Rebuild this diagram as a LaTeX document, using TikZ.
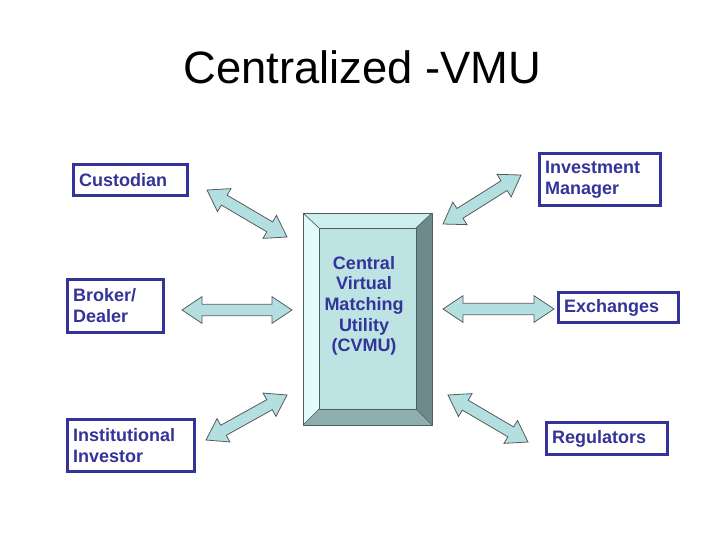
\documentclass[tikz,border=0pt]{standalone}
\usepackage{fontspec}
\setmainfont{Liberation Sans}
\definecolor{navy}{HTML}{333399}
\definecolor{flowfill}{HTML}{B4DFE1}
\definecolor{flowline}{HTML}{5A5A5A}
\definecolor{facetop}{HTML}{CDEFEF}
\definecolor{faceleft}{HTML}{E2FBFB}
\definecolor{faceright}{HTML}{6F8A8A}
\definecolor{facebottom}{HTML}{8FAEAE}
\definecolor{facecore}{HTML}{BDE3E3}
\definecolor{faceedge}{HTML}{4D6060}
\usetikzlibrary{calc}

% double-headed block arrow between two named coordinates
\newcommand{\blockarrow}[2]{%
  \coordinate (ha) at ($(#1)!15pt!(#2)$);
  \coordinate (hb) at ($(#2)!15pt!(#1)$);
  \draw[flow] (#1) -- ($(ha)!10pt!90:(#2)$) -- ($(ha)!4.3pt!90:(#2)$)
    -- ($(hb)!4.3pt!-90:(#1)$) -- ($(hb)!10pt!-90:(#1)$) -- (#2)
    -- ($(hb)!10pt!90:(#1)$) -- ($(hb)!4.3pt!90:(#1)$)
    -- ($(ha)!4.3pt!-90:(#2)$) -- ($(ha)!10pt!-90:(#2)$) -- cycle;}

\begin{document}
\begin{tikzpicture}[
    x=0.75pt, y=-0.75pt,
    title/.style={
        font=\fontsize{34}{40}\selectfont,
        text=black,
        inner sep=0pt,
    },
    entity/.style={
        rectangle,
        draw=navy,
        line width=2.2pt,
        text=navy,
        font=\bfseries\fontsize{13.5}{15.75}\selectfont,
        align=left,
        inner xsep=4.25pt,
        inner ysep=0pt,
    },
    hub/.style={
        rectangle,
        inner sep=0pt,
        outer sep=0pt,
        minimum width=96.75pt,
        minimum height=159pt,
    },
    core/.style={
        rectangle,
        inner sep=0pt,
        outer sep=0pt,
        minimum width=72.75pt,
        minimum height=135.75pt,
    },
    hublabel/.style={
        text=navy,
        font=\bfseries\fontsize{13.5}{15.5}\selectfont,
        align=center,
    },
    face/.style={draw=faceedge, line width=0.5pt, line join=round},
    flow/.style={fill=flowfill, draw=flowline, line width=0.6pt, line join=miter},
]
\useasboundingbox (0,0) rectangle (728,546);

\node[title, anchor=base] (heading) at (362.5,83) {Centralized -VMU};

% the central matching utility
\node[hub] (cvmu) at (367.5,319) {};
\node[core] (cvmucore) at (367.5,318.5) {};
\fill[facetop] (cvmu.north west) -- (cvmu.north east) -- (cvmucore.north east) -- (cvmucore.north west) -- cycle;
\fill[faceleft] (cvmu.north west) -- (cvmucore.north west) -- (cvmucore.south west) -- (cvmu.south west) -- cycle;
\fill[faceright] (cvmu.north east) -- (cvmu.south east) -- (cvmucore.south east) -- (cvmucore.north east) -- cycle;
\fill[facebottom] (cvmu.south west) -- (cvmucore.south west) -- (cvmucore.south east) -- (cvmu.south east) -- cycle;
\fill[facecore] (cvmucore.north west) rectangle (cvmucore.south east);
\draw[face] (cvmu.north west) rectangle (cvmu.south east);
\draw[face] (cvmucore.north west) rectangle (cvmucore.south east);
\draw[face] (cvmu.north west) -- (cvmucore.north west);
\draw[face] (cvmu.north east) -- (cvmucore.north east);
\draw[face] (cvmu.south east) -- (cvmucore.south east);
\draw[face] (cvmu.south west) -- (cvmucore.south west);
\node[hublabel] (cvmulabel) at (364,306) {Central\\Virtual\\Matching\\Utility\\(CVMU)};

% participants
\node[entity, text width=77pt, minimum height=23.25pt] (custodian) at (130.5,180) {Custodian};
\node[entity, text width=82.25pt, minimum height=39pt] (investment) at (600,179.5) {Investment\\Manager};
\node[entity, text width=63.5pt, minimum height=39.75pt] (broker) at (115.5,306) {Broker/\\Dealer};
\node[entity, text width=81.5pt, minimum height=22.5pt] (exchanges) at (618.5,307.5) {Exchanges};
\node[entity, text width=86.75pt, minimum height=39pt] (institutional) at (131,445.5) {Institutional\\Investor};
\node[entity, text width=82.25pt, minimum height=24pt] (regulators) at (607,438.5) {Regulators};

% arrow ends
\coordinate (custodianA) at (207,190);
\coordinate (custodianB) at (287,237);
\coordinate (investmentA) at (443,224);
\coordinate (investmentB) at (521,175);
\coordinate (brokerA) at (182,310);
\coordinate (brokerB) at (292,310);
\coordinate (exchangesA) at (443,309);
\coordinate (exchangesB) at (554,309);
\coordinate (institutionalA) at (206,440);
\coordinate (institutionalB) at (287,395);
\coordinate (regulatorsA) at (448,395);
\coordinate (regulatorsB) at (528,442);

\blockarrow{custodianA}{custodianB}
\blockarrow{investmentA}{investmentB}
\blockarrow{brokerA}{brokerB}
\blockarrow{exchangesA}{exchangesB}
\blockarrow{institutionalA}{institutionalB}
\blockarrow{regulatorsA}{regulatorsB}

\end{tikzpicture}
\end{document}
